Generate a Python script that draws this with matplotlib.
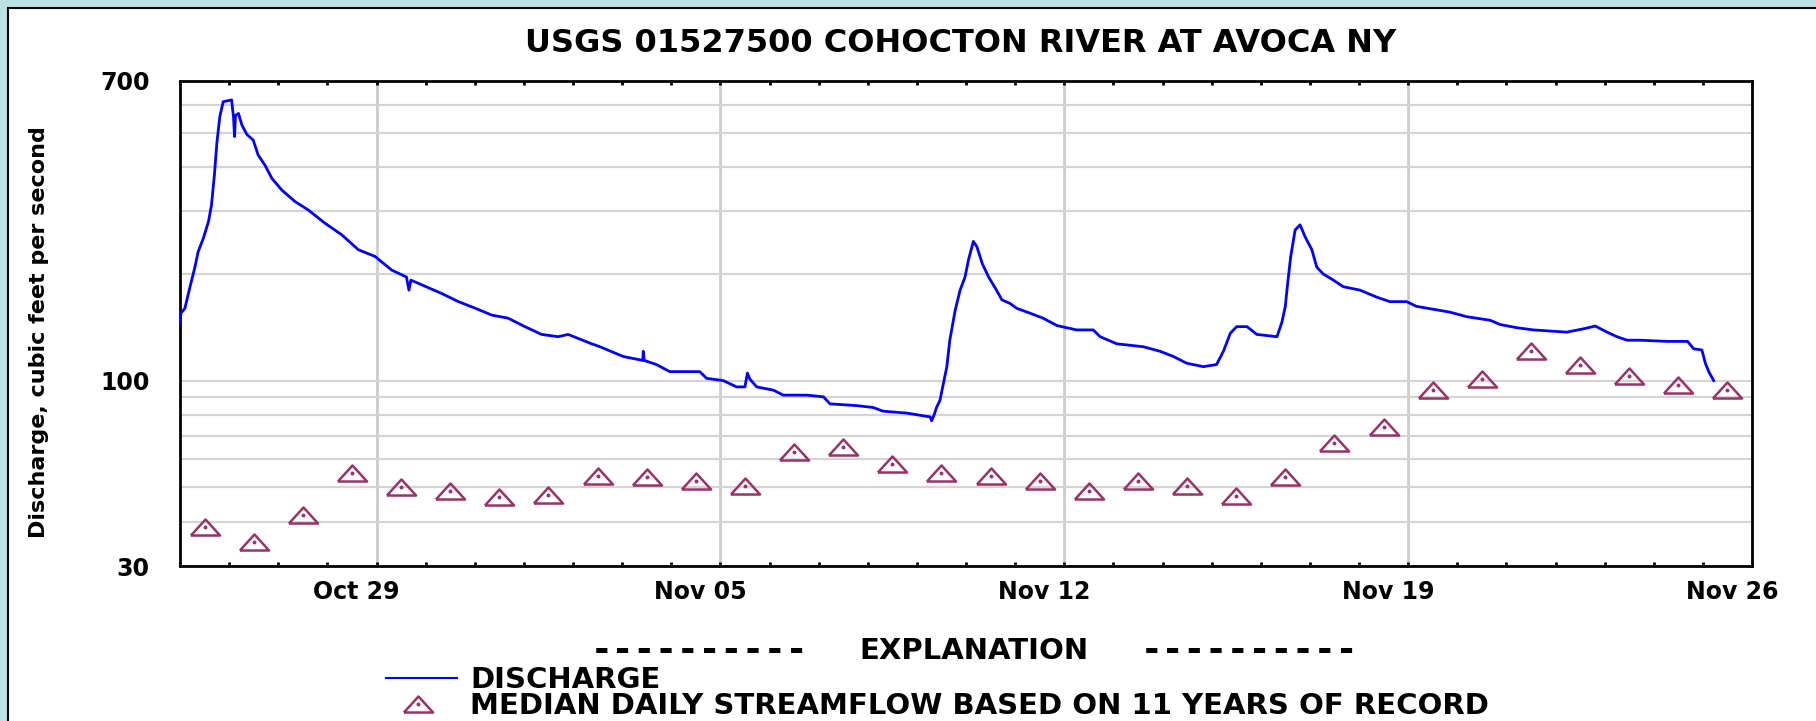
import matplotlib
matplotlib.use("Agg")
import matplotlib.pyplot as plt
import matplotlib.dates as mdates
import matplotlib.ticker as ticker
from matplotlib.lines import Line2D
from matplotlib.patches import Rectangle
from matplotlib.transforms import ScaledTranslation
import pandas as pd

# --- data ---
start = pd.Timestamp("2019-10-25")
end = pd.Timestamp("2019-11-26")

# discharge, days after Oct 25 00:00 and cfs
q_days = [0.00, 0.02, 0.10, 0.20, 0.30, 0.37, 0.475, 0.58, 0.64, 0.70, 0.75, 0.81, 0.88,
          1.05, 1.09, 1.11, 1.13, 1.19, 1.26, 1.36, 1.49, 1.59, 1.73, 1.87, 2.07, 2.34,
          2.61, 2.95, 3.29, 3.63, 3.97, 4.31, 4.61, 4.66, 4.70, 4.78, 5.33, 5.67, 6.01,
          6.35, 6.68, 7.02, 7.36, 7.70, 7.90, 8.38, 8.55, 9.02, 9.42, 9.43, 9.45, 9.70,
          9.97, 10.58, 10.72, 11.06, 11.33, 11.50, 11.55, 11.60, 11.74, 12.08, 12.28,
          12.76, 13.10, 13.23, 13.78, 14.11, 14.31, 14.79, 15.27, 15.30, 15.35, 15.40,
          15.47, 15.54, 15.61, 15.67, 15.78, 15.88, 15.98, 16.05, 16.15, 16.22, 16.33,
          16.46, 16.60, 16.73, 16.90, 17.03, 17.30, 17.57, 17.85, 18.25, 18.59, 18.73,
          19.07, 19.61, 19.95, 20.22, 20.49, 20.83, 21.10, 21.24, 21.38, 21.51, 21.72,
          21.92, 22.33, 22.43, 22.50, 22.54, 22.61, 22.70, 22.80, 22.90, 23.04, 23.14,
          23.27, 23.48, 23.68, 24.02, 24.36, 24.63, 24.97, 25.17, 25.51, 25.85, 26.19,
          26.67, 26.87, 27.21, 27.55, 28.23, 28.57, 28.81, 29.05, 29.25, 29.46, 29.73,
          30.28, 30.69, 30.81, 30.98, 31.05, 31.12, 31.22]
q_cfs = [146, 155, 160, 183, 208, 231, 252, 281, 312, 380, 467, 555, 612,
         619, 552, 488, 560, 567, 526, 495, 477, 433, 405, 372, 345, 320,
         303, 278, 258, 234, 224, 205, 196, 180, 192, 190, 176, 167, 160,
         153, 150, 142, 135, 133, 135, 127, 124.6, 117, 114, 121, 114, 111,
         106, 106, 101.5, 100, 96, 96, 105, 101, 96, 94, 91,
         91, 90, 86, 85, 84, 82, 81, 79, 77, 80, 84,
         88, 98, 109.5, 130, 158, 180, 196, 219, 247, 239, 214,
         196, 182, 169, 165, 160, 155, 150, 143, 139, 139, 133,
         127, 124.6, 121, 117, 112, 109.5, 111, 121, 136, 142, 142,
         135, 133, 146, 162, 184, 224, 266, 275, 255, 234, 209,
         200, 192, 184, 180, 172, 167, 167, 162, 159, 156, 151.5,
         148, 144, 141, 139, 137, 140, 142.5, 137, 133, 130, 130,
         129, 129, 123, 122, 112, 106, 100]

# median daily streamflow, one per day (plotted at noon)
median_cfs = [38.7, 35.1, 41.7, 55.0, 50.0, 48.8, 47.0, 47.6, 53.8, 53.4, 52.2, 50.6,
              63.0, 65.0, 58.0, 55.0, 53.8, 52.2, 48.8, 52.2, 50.6, 47.3, 53.4, 66.5,
              74.0, 94, 101, 121, 111, 103, 97, 94]

label_dates = ["2019-10-29", "2019-11-05", "2019-11-12", "2019-11-19", "2019-11-26"]
label_text = ["Oct 29", "Nov 05", "Nov 12", "Nov 19", "Nov 26"]
y_labels = [30, 100, 700]
y_grid = [40, 50, 60, 70, 80, 90, 100, 200, 300, 400, 500, 600]

q_time = [start + pd.Timedelta(days=d) for d in q_days]
m_time = [start + pd.Timedelta(days=i + 0.5) for i in range(len(median_cfs))]

W, H = 1816, 721
fig = plt.figure(figsize=(W / 100, H / 100), dpi=100, facecolor="#bde0e3")
# white panel with black edge on top/left, cyan band outside
fig.patches.append(Rectangle((8 / W, -0.1), 1.2, 0.1 + (H - 8) / H,
                             transform=fig.transFigure, facecolor="white",
                             edgecolor="black", linewidth=1.5, zorder=-5))

ax = fig.add_axes([180 / W, 1 - 566 / H, (1752 - 180) / W, (566 - 81) / H])
ax.set_axisbelow(True)

tri = [(-1, -0.55), (1, -0.55), (0, 0.55), (-1, -0.55)]
ax.plot(q_time, q_cfs, color="#0000ff", lw=2, zorder=3)
ax.plot(m_time, median_cfs, ls="none", marker=tri, ms=21, mfc="none",
        mec="#993366", mew=1.8, zorder=4)
ax.plot(m_time, median_cfs, ls="none", marker="o", ms=1.8, color="#993366", zorder=4)

ax.set_yscale("log")
ax.set_ylim(30, 700)
ax.set_xlim(start, end)

ax.yaxis.set_major_locator(ticker.FixedLocator(y_labels))
ax.yaxis.set_major_formatter(ticker.FixedFormatter([str(v) for v in y_labels]))
ax.yaxis.set_minor_locator(ticker.FixedLocator(y_grid))
ax.yaxis.set_minor_formatter(ticker.NullFormatter())
ax.yaxis.grid(True, which="both", color="#d4d4d4", lw=1.6)
ax.tick_params(axis="y", which="both", length=0, pad=22)

ax.xaxis.set_major_locator(ticker.FixedLocator(mdates.date2num(pd.to_datetime(label_dates))))
ax.xaxis.set_major_formatter(ticker.FixedFormatter(label_text))
ax.xaxis.set_minor_locator(mdates.DayLocator())
ax.xaxis.grid(True, which="major", color="#cccccc", lw=2)
ax.tick_params(axis="x", which="both", direction="in", top=True, length=3, width=2, pad=10)

for lab in ax.get_yticklabels() + ax.get_xticklabels():
    lab.set_fontfamily("DejaVu Sans")
    lab.set_fontweight("bold")
    lab.set_fontsize(17)
shift = ScaledTranslation(-20 / 100, 0, fig.dpi_scale_trans)
for lab in ax.get_xticklabels():
    lab.set_transform(lab.get_transform() + shift)

for s in ax.spines.values():
    s.set_linewidth(2)

ax.set_ylabel("Discharge, cubic feet per second", fontsize=16, fontweight="bold",
              labelpad=0)
ax.yaxis.set_label_coords(49 / W, 1 - 332 / H, transform=fig.transFigure)

fig.text(961 / W, 1 - 44 / H, "USGS 01527500 COHOCTON RIVER AT AVOCA NY",
         ha="center", va="center", fontsize=23, fontweight="bold")

# explanation block
ey = 1 - 651 / H
fig.text(699 / W, ey, "----------", ha="center", va="center", fontsize=26,
         fontweight="bold", family="DejaVu Sans Mono")
fig.text(974 / W, ey, "EXPLANATION", ha="center", va="center", fontsize=21, fontweight="bold")
fig.text(1249 / W, ey, "----------", ha="center", va="center", fontsize=26,
         fontweight="bold", family="DejaVu Sans Mono")

fig.lines.append(Line2D([386 / W, 457 / W], [1 - 678 / H] * 2, transform=fig.transFigure,
                        color="#0000ff", lw=1.5))
fig.text(470 / W, 1 - 680 / H, "DISCHARGE", ha="left", va="center", fontsize=21,
         fontweight="bold")
fig.lines.append(Line2D([418 / W], [1 - 704 / H], transform=fig.transFigure, ls="none",
                        marker=tri, ms=21, mfc="none", mec="#993366", mew=1.8))
fig.lines.append(Line2D([418 / W], [1 - 704 / H], transform=fig.transFigure, ls="none",
                        marker="o", ms=1.8, color="#993366"))
fig.text(470 / W, 1 - 706 / H, "MEDIAN DAILY STREAMFLOW BASED ON 11 YEARS OF RECORD",
         ha="left", va="center", fontsize=21, fontweight="bold")

fig.savefig("out.png", dpi=100, facecolor=fig.get_facecolor())
